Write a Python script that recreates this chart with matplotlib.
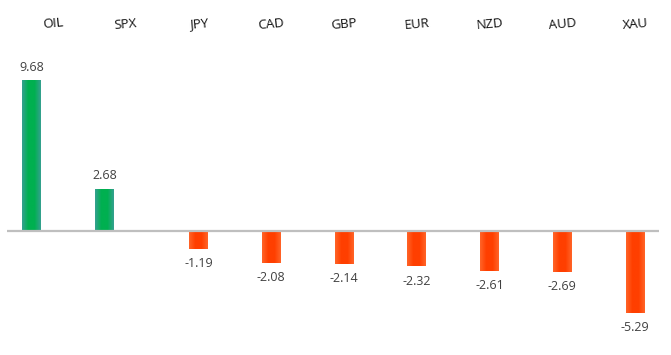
import numpy as np
from matplotlib import pyplot as plt
from matplotlib.colors import LinearSegmentedColormap

labels = ['OIL', 'SPX', 'JPY', 'CAD', 'GBP', 'EUR', 'NZD', 'AUD', 'XAU']
values = [9.68, 2.68, -1.19, -2.08, -2.14, -2.32, -2.61, -2.69, -5.29]

plt.rcParams['font.family'] = ['Open Sans', 'DejaVu Sans']

fig = plt.figure(figsize=(6.71, 3.55), dpi=100)
ax = fig.add_axes([0, 0, 1, 1])
ax.set_xlim(-0.7285, 8.495)
ax.set_ylim(-8.03, 14.87)
ax.axis('off')

green = LinearSegmentedColormap.from_list('g', ['#35a090', '#00b050', '#00b050', '#35a090'])
red = LinearSegmentedColormap.from_list('r', ['#ff6428', '#ff3f00', '#ff3f00', '#ff6428'])
grad = np.linspace(0, 1, 64).reshape(1, -1)

width = 0.26
for i, (lab, v) in enumerate(zip(labels, values)):
    # positive series sits left of the category, negative one centred
    xc = i - 0.29 if v > 0 else i
    cmap = green if v > 0 else red
    ax.imshow(grad, cmap=cmap, aspect='auto', interpolation='bilinear',
              extent=[xc - width / 2, xc + width / 2, min(0, v), max(0, v)], zorder=2)
    if v > 0:
        ax.annotate(f'{v:.2f}', (xc, v), xytext=(0, 9.5), textcoords='offset points',
                    ha='center', va='center', fontsize=9, color='#404040')
    else:
        ax.annotate(f'{v:.2f}', (xc, v), xytext=(0, -10.5), textcoords='offset points',
                    ha='center', va='center', fontsize=9, color='#404040')
    ax.text(i, 13.32, lab, ha='center', va='center', fontsize=9.5, color='#111111', rotation=5)

ax.plot([-0.632, 8.33], [0, 0], color='#bfbfbf', lw=1.6, zorder=3, solid_capstyle='butt')

fig.savefig('out.png', dpi=100)
